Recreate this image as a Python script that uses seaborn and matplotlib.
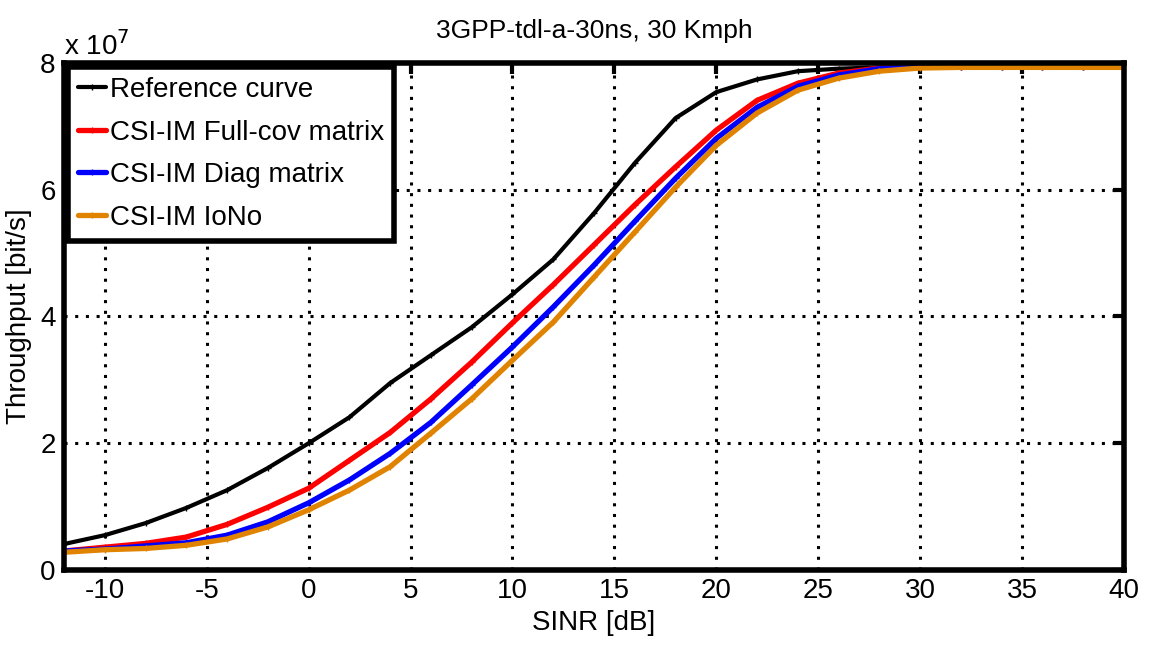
import numpy as np
import pandas as pd
import matplotlib
matplotlib.use("Agg")
import matplotlib.pyplot as plt
import seaborn as sns

# SINR grid (dB), one point every 2 dB
sinr = list(range(-12, 41, 2))

# Throughput in units of 1e7 bit/s
reference = [0.41, 0.55, 0.74, 0.98, 1.26, 1.61, 2.00, 2.41, 2.95, 3.39, 3.83, 4.35, 4.90,
             5.63, 6.42, 7.13, 7.54, 7.74, 7.87, 7.91, 7.93, 7.94, 7.94, 7.94, 7.94, 7.94, 7.94]
full_cov = [0.30, 0.36, 0.42, 0.52, 0.72, 0.99, 1.29, 1.73, 2.17, 2.70, 3.28, 3.90, 4.50,
            5.13, 5.76, 6.36, 6.94, 7.41, 7.68, 7.84, 7.92, 7.94, 7.94, 7.94, 7.94, 7.94, 7.94]
diag = [0.30, 0.33, 0.38, 0.43, 0.55, 0.76, 1.06, 1.42, 1.84, 2.33, 2.92, 3.52, 4.15,
        4.81, 5.50, 6.18, 6.81, 7.30, 7.63, 7.81, 7.91, 7.94, 7.94, 7.94, 7.94, 7.94, 7.94]
iono = [0.28, 0.32, 0.34, 0.39, 0.49, 0.68, 0.95, 1.26, 1.63, 2.16, 2.70, 3.31, 3.91,
        4.62, 5.33, 6.04, 6.70, 7.21, 7.57, 7.76, 7.87, 7.92, 7.93, 7.93, 7.93, 7.93, 7.93]

labels = ["Reference curve", "CSI-IM Full-cov matrix", "CSI-IM Diag matrix", "CSI-IM IoNo"]
colors = ["black", "#ff0000", "#0000ff", "#e08300"]
widths = [3.0, 3.8, 3.8, 3.8]

sns.set_style("white")
plt.rcParams['font.family'] = ['Liberation Sans', 'DejaVu Sans']
plt.rcParams['axes.unicode_minus'] = False
plt.rcParams['text.color'] = 'black'
plt.rcParams['axes.labelcolor'] = 'black'
plt.rcParams['xtick.color'] = 'black'
plt.rcParams['ytick.color'] = 'black'

fig = plt.figure(figsize=(11.54, 6.49), dpi=100)
ax = fig.add_axes([0.0555, 0.1217, 0.9185, 0.7813])

for vals, lab, col, lw in zip([reference, full_cov, diag, iono], labels, colors, widths):
    df = pd.DataFrame({"sinr": sinr, "tput": vals})
    sns.lineplot(data=df, x="sinr", y="tput", ax=ax, color=col, linewidth=lw,
                 marker="+", markersize=4, markeredgewidth=1, markeredgecolor=col,
                 label=lab)

ax.set_xlim(-12, 40)
ax.set_ylim(0, 8)
ax.set_xticks(range(-10, 41, 5))
ax.set_yticks([0, 2, 4, 6, 8])
ax.grid(True, color="black", linestyle=(0, (1, 2.5)), linewidth=2.2)
ax.tick_params(direction="in", length=8, width=3, labelsize=20, pad=6,
               top=True, right=True)
for sp in ax.spines.values():
    sp.set_linewidth(4)
    sp.set_color("black")

ax.set_xlabel("SINR [dB]", fontsize=20, labelpad=4)
ax.set_ylabel("Throughput [bit/s]", fontsize=20, labelpad=6)
ax.set_title("3GPP-tdl-a-30ns, 30 Kmph", fontsize=19, pad=18)
ax.text(0.0, 1.004, r"x 10$^{7}$", transform=ax.transAxes, fontsize=20,
        ha="left", va="bottom")

leg = ax.legend(loc="upper left", fontsize=20, frameon=True, fancybox=False,
                handlelength=1.0, handletextpad=0.15, borderpad=0.35,
                labelspacing=0.6, borderaxespad=0.15, framealpha=1)
leg.get_frame().set_edgecolor("black")
leg.get_frame().set_linewidth(4)

fig.savefig("out.png", dpi=100)
